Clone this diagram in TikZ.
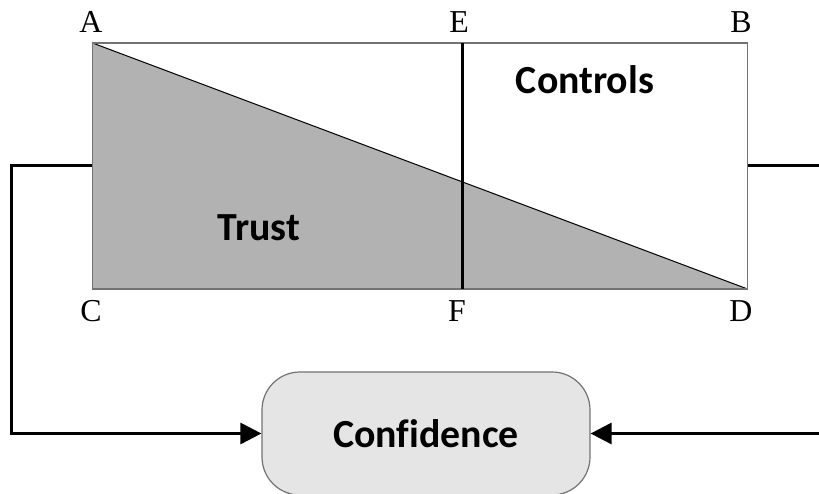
\documentclass[tikz,border=0pt]{standalone}
\usepackage{fontspec}
\setmainfont{Liberation Serif}
\newfontfamily\calibri[Ligatures=NoCommon]{Carlito}
\usetikzlibrary{arrows.meta}
\definecolor{sombra}{gray}{0.70}
\definecolor{caja}{gray}{0.90}
\definecolor{borde}{gray}{0.45}

\begin{document}
\begin{tikzpicture}[x=0.5bp, y=0.5bp,
  letra/.style={font=\fontsize{16}{16}\selectfont, inner sep=0pt},
  rotulo/.style={font=\calibri\bfseries\fontsize{20}{20}\selectfont},
  enlace/.style={line width=1.5bp, -{Triangle[length=10.5bp,width=10.5bp]}}]
  \clip (0,0) rectangle (819,494);
  \coordinate (A) at (92.5,451);
  \coordinate (B) at (747.5,451);
  \coordinate (C) at (92.5,205);
  \coordinate (D) at (747.5,205);
  \coordinate (E) at (462,451);
  \coordinate (F) at (462,205);
  \fill[sombra] (A) -- (D) -- (C) -- cycle;
  \draw[line width=0.5bp] (A) -- (D);
  \node[draw=borde, line width=0.6bp, minimum width=327.5bp, minimum height=123bp, inner sep=0pt] (marco) at (420,328) {};
  \draw[line width=1.5bp] (E) -- (F);
  \node[letra] (lA) at (91,472) {A};
  \node[letra] (lE) at (459,472) {E};
  \node[letra] (lB) at (741,472) {B};
  \node[letra] (lC) at (91,183) {C};
  \node[letra] (lF) at (457,183) {F};
  \node[letra] (lD) at (741,183) {D};
  \node[rotulo] (controles) at (585,414) {Controls};
  \node[rotulo] (confianza0) at (259,266) {Trust};
  \node[draw=borde, fill=caja, line width=0.6bp, rounded corners=19bp, minimum width=164bp, minimum height=61.5bp, rotulo] (conf) at (426,60.5) {Confidence};
  \coordinate (codoIzq) at (11,328);
  \coordinate (codoDer) at (830,328);
  \draw[enlace] (marco.west) -- (codoIzq) |- (conf.west);
  \draw[enlace] (marco.east) -- (codoDer) |- (conf.east);
\end{tikzpicture}
\end{document}
